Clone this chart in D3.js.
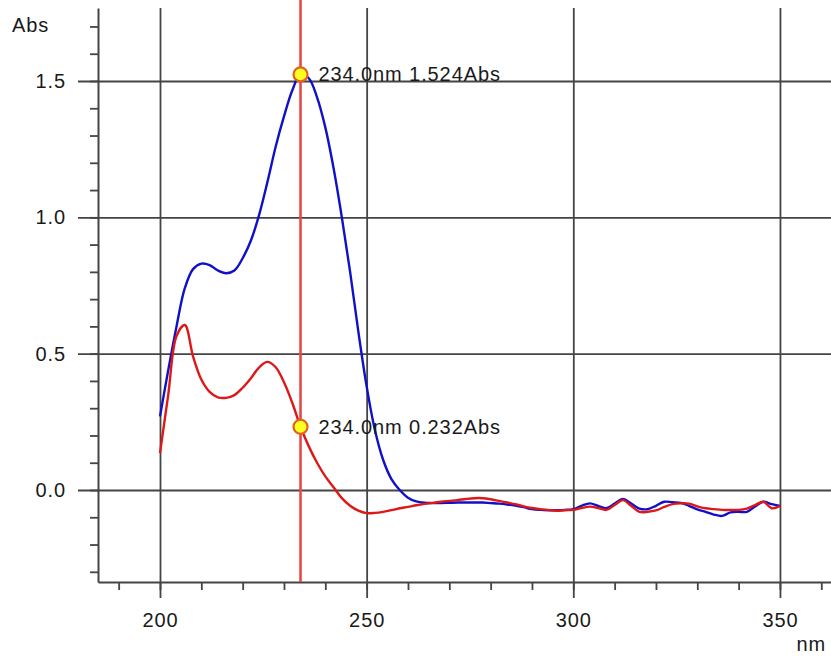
<!DOCTYPE html>
<html>
<head>
<meta charset="utf-8">
<script src="https://cdn.jsdelivr.net/npm/d3@7"></script>
<style>
  body { margin: 0; background: #fff; }
  svg { display: block; font-family: Arial, "Liberation Sans", sans-serif; }
  .lbl { font-size: 20px; fill: #1a1a1a; letter-spacing: 0.9px; }
</style>
</head>
<body>
<div id="viz"></div>
<script>
// wavelengths (nm), two absorbance spectra
const wavelengths = d3.range(200, 351, 2);
const blueAbs = [
  0.27, 0.44, 0.60, 0.74, 0.81, 0.83, 0.825, 0.805, 0.795, 0.805,
  0.85, 0.915, 1.01, 1.13, 1.26, 1.37, 1.465, 1.524, 1.51, 1.44,
  1.33, 1.18, 1.0, 0.80, 0.58, 0.38, 0.22, 0.11, 0.04, 0.0,
  -0.028, -0.042, -0.047, -0.048, -0.048, -0.047, -0.046, -0.046, -0.046, -0.046,
  -0.048, -0.05, -0.053, -0.057, -0.063, -0.07, -0.073, -0.074, -0.074, -0.073,
  -0.07, -0.058, -0.049, -0.058, -0.067, -0.05, -0.033, -0.05, -0.068, -0.07,
  -0.058, -0.043, -0.045, -0.047, -0.058, -0.071, -0.08, -0.09, -0.095, -0.082,
  -0.08, -0.08, -0.06, -0.043, -0.052, -0.058
];
const redAbs = [
  0.135, 0.35, 0.565, 0.605, 0.49, 0.405, 0.36, 0.34, 0.338, 0.348,
  0.375, 0.41, 0.45, 0.47, 0.45, 0.395, 0.32, 0.232, 0.16, 0.10,
  0.05, 0.01, -0.03, -0.058, -0.076, -0.085, -0.084, -0.08, -0.074, -0.067,
  -0.062, -0.056, -0.051, -0.047, -0.043, -0.04, -0.037, -0.033, -0.03, -0.03,
  -0.034, -0.04, -0.046, -0.052, -0.06, -0.066, -0.07, -0.073, -0.076, -0.074,
  -0.073, -0.066, -0.061, -0.066, -0.073, -0.055, -0.037, -0.058, -0.08, -0.08,
  -0.075, -0.062, -0.052, -0.049, -0.05, -0.06, -0.067, -0.07, -0.073, -0.073,
  -0.073, -0.068, -0.055, -0.043, -0.067, -0.058
];
const xMajor = [200, 250, 300, 350];
const xMinor = d3.range(190, 361, 10);
const yMajor = [0.0, 0.5, 1.0, 1.5];
const yMinor = d3.range(-3, 18).map(d => d / 10);
const cursorNm = 234;

const W = 831, H = 658;
const GRID = '#444';

let svg = d3.select('#viz').append('svg')
    .attr('width', W)
    .attr('height', H);

let x = d3.scaleLinear().domain([185, 362.35]).range([98, 831]);
let y = d3.scaleLinear().domain([-0.3374, 1.7677]).range([582, 8]);

// grid lines
svg.append('g').attr('class', 'grid')
    .attr('transform', 'translate(0,598)')
    .call(d3.axisBottom(x).tickValues(xMajor).tickSize(-590).tickFormat(''));
svg.append('g').attr('class', 'grid')
    .attr('transform', 'translate(78,0)')
    .call(d3.axisRight(y).tickValues(yMajor).tickSize(W - 78).tickFormat(''));
svg.selectAll('.grid .domain').remove();
svg.selectAll('.grid line').attr('stroke', GRID).attr('stroke-width', 1.8);

// axes with minor ticks
svg.append('g').attr('class', 'minor')
    .attr('transform', 'translate(0,582)')
    .call(d3.axisBottom(x).tickValues(xMinor).tickSize(8).tickSizeOuter(0).tickFormat(''));
svg.append('g').attr('class', 'minor')
    .attr('transform', 'translate(98,0)')
    .call(d3.axisLeft(y).tickValues(yMinor).tickSize(8).tickSizeOuter(0).tickFormat(''));
svg.selectAll('.minor line').attr('stroke', GRID).attr('stroke-width', 1.8);
svg.selectAll('.minor .domain').attr('stroke', GRID).attr('stroke-width', 2);

// tick labels
let xl = svg.append('g')
    .attr('transform', 'translate(0,582)')
    .call(d3.axisBottom(x).tickValues(xMajor).tickSize(0).tickPadding(31).tickFormat(d3.format('d')));
let yl = svg.append('g')
    .attr('transform', 'translate(98,0)')
    .call(d3.axisLeft(y).tickValues(yMajor).tickSize(0).tickPadding(32).tickFormat(d3.format('.1f')));
xl.select('.domain').remove();
yl.select('.domain').remove();
[xl, yl].forEach(g => g.attr('font-family', null).attr('font-size', null)
    .selectAll('text').attr('class', 'lbl').attr('fill', null));

// unit labels
svg.append('text').attr('class', 'lbl')
    .attr('x', 12).attr('y', 32)
    .text('Abs');
svg.append('text').attr('class', 'lbl')
    .attr('x', 826).attr('y', 651)
    .attr('text-anchor', 'end')
    .text('nm');

// cursor
svg.append('line')
    .attr('x1', x(cursorNm)).attr('x2', x(cursorNm))
    .attr('y1', 0).attr('y2', 582)
    .attr('stroke', '#e84848')
    .attr('stroke-width', 2.6);

let line = d3.line()
    .x((d, i) => x(wavelengths[i]))
    .y(d => y(d))
    .curve(d3.curveCatmullRom.alpha(0.5));

svg.append('path')
    .datum(blueAbs)
    .attr('d', line)
    .attr('fill', 'none')
    .attr('stroke', '#1010c8')
    .attr('stroke-width', 2.4);

svg.append('path')
    .datum(redAbs)
    .attr('d', line)
    .attr('fill', 'none')
    .attr('stroke', '#dd1818')
    .attr('stroke-width', 2.4);

// cursor readouts
let ci = wavelengths.indexOf(cursorNm);
[blueAbs[ci], redAbs[ci]].forEach(v => {
    svg.append('circle')
        .attr('cx', x(cursorNm)).attr('cy', y(v))
        .attr('r', 7)
        .attr('fill', '#ffff22')
        .attr('stroke', '#e0641e')
        .attr('stroke-width', 2.2);
    svg.append('text')
        .attr('class', 'lbl')
        .attr('x', x(cursorNm) + 18)
        .attr('y', y(v))
        .attr('dy', '0.35em')
        .text(`${cursorNm.toFixed(1)}nm ${v.toFixed(3)}Abs`);
});
</script>
</body>
</html>
